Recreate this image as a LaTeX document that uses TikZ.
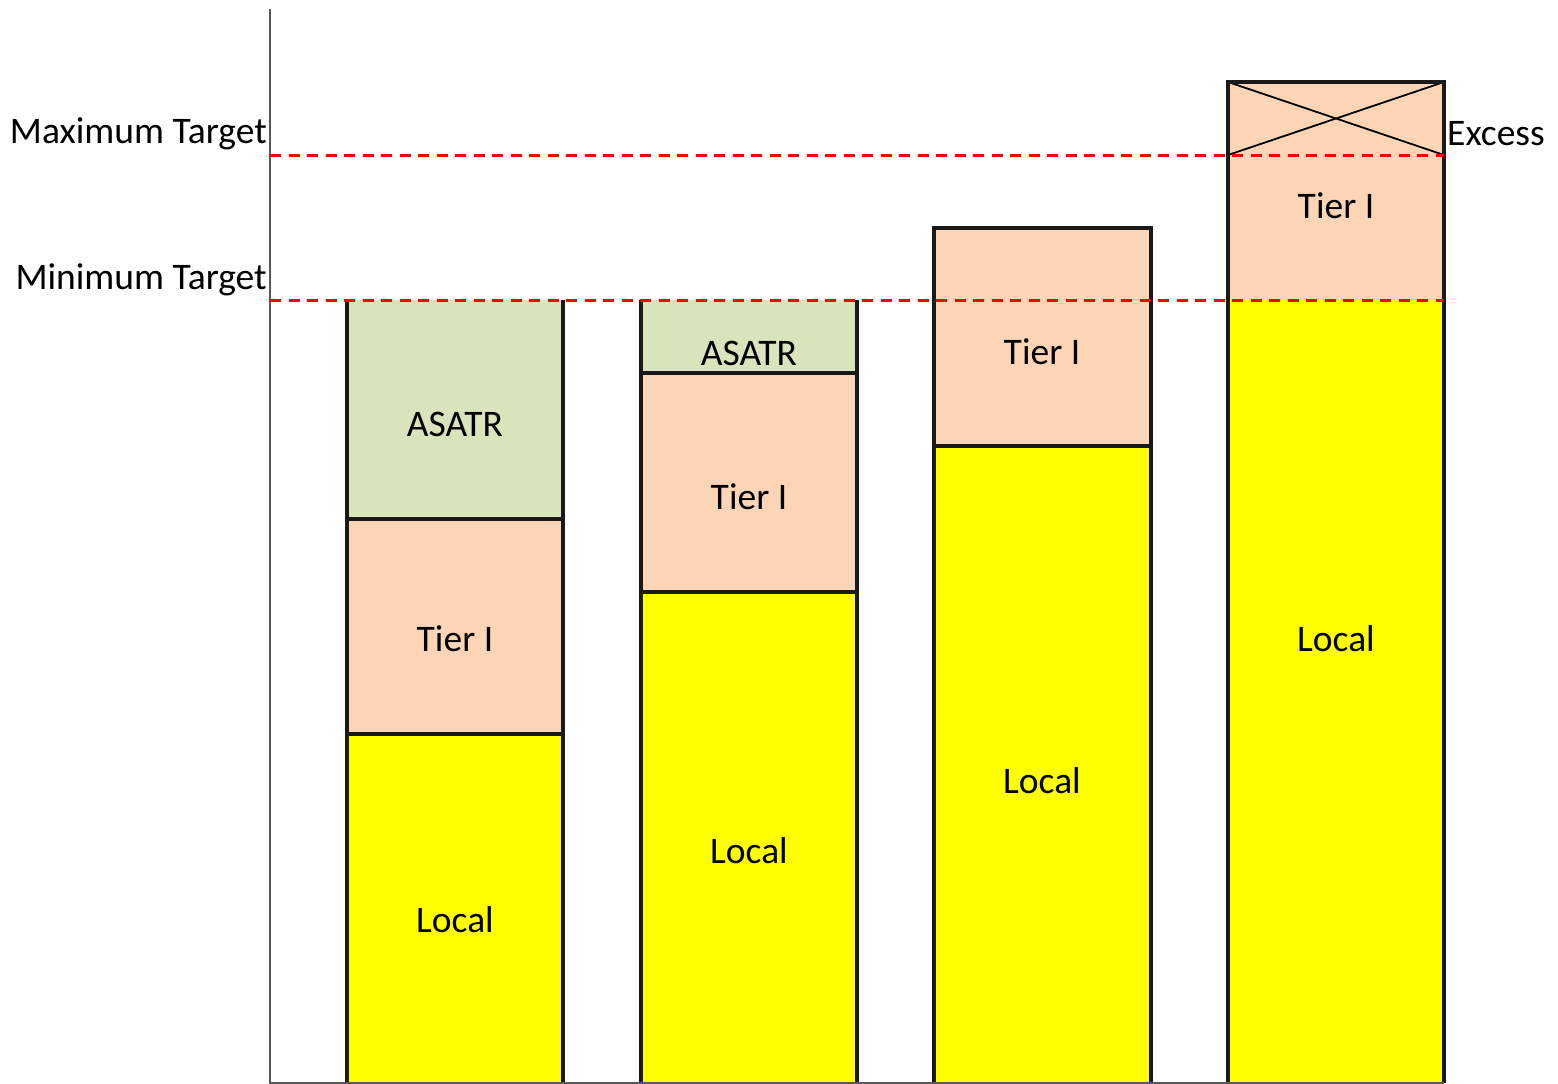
\documentclass[tikz,border=0pt]{standalone}
\usepackage{fontspec}
\setmainfont{Carlito}
\begin{document}
\begin{tikzpicture}[x=1pt,y=-1pt,
  lbl/.style={font=\fontsize{37.5}{44}\selectfont, inner sep=0pt},
  seg/.style={draw=none, inner sep=0pt, minimum width=216pt, anchor=north west},
  green/.style={fill={rgb,255:red,216;green,228;blue,188}},
  peach/.style={fill={rgb,255:red,251;green,213;blue,181}},
  yell/.style={fill={rgb,255:red,255;green,255;blue,0}},
  border/.style={line width=3.2pt, black!90},
  axis/.style={line width=2.4pt, black!65},
  target/.style={line width=3pt, red, dash pattern=on 11pt off 7.5pt}]
\useasboundingbox (0,0) rectangle (1558,1084);

% ---- bar 1 ----
\node[seg, green, minimum height=219pt] (b1a) at (347,300) {};
\node[seg, peach, minimum height=215pt] (b1t) at (347,519) {};
\node[seg, yell,  minimum height=349pt] (b1l) at (347,734) {};
\draw[border] (347,300) -- (347,1083) (563,300) -- (563,1083)
              (347,519) -- (563,519) (347,734) -- (563,734);
\node[lbl] (t1a) at (455,424) {ASATR};
\node[lbl] (t1t) at (455,639) {Tier I};
\node[lbl] (t1l) at (455,920) {Local};

% ---- bar 2 ----
\node[seg, green, minimum height=73pt]  (b2a) at (641,300) {};
\node[seg, peach, minimum height=219pt] (b2t) at (641,373) {};
\node[seg, yell,  minimum height=491pt] (b2l) at (641,592) {};
\draw[border] (641,300) -- (641,1083) (857,300) -- (857,1083)
              (641,373) -- (857,373) (641,592) -- (857,592);
\node[lbl] (t2a) at (749,353) {ASATR};
\node[lbl] (t2t) at (749,497) {Tier I};
\node[lbl] (t2l) at (749,851) {Local};

% ---- bar 3 ----
\node[seg, peach, minimum height=218pt] (b3t) at (934,228) {};
\node[seg, yell,  minimum height=637pt] (b3l) at (934,446) {};
\draw[border] (934,1083) -- (934,228) -- (1151,228) -- (1151,1083)
              (934,446) -- (1151,446);
\node[lbl] (t3t) at (1042,352) {Tier I};
\node[lbl] (t3l) at (1042,781) {Local};

% ---- bar 4 ----
\node[seg, peach, minimum height=218pt] (b4t) at (1228,82) {};
\node[seg, yell,  minimum height=783pt] (b4l) at (1228,300) {};
\draw[line width=1.8pt] (1228,82) -- (1444,155) (1228,155) -- (1444,82);
\draw[border] (1228,1083) -- (1228,82) -- (1444,82) -- (1444,1083);
\node[lbl] (t4t) at (1336,206) {Tier I};
\node[lbl] (t4l) at (1336,639) {Local};
\node[lbl, anchor=west] (ex) at (1447,134) {Excess};

% ---- axes ----
\coordinate (ytop) at (270,9);
\coordinate (orig) at (270,1083);
\coordinate (xend) at (1444,1083);
\draw[axis] (ytop) -- (orig) -- (xend);

% ---- target levels ----
\coordinate (maxL) at (270,155);
\coordinate (maxR) at (1444,155);
\coordinate (minL) at (270,300);
\coordinate (minR) at (1444,300);
\draw[target] (maxL) -- (maxR);
\draw[target] (minL) -- (minR);
\node[lbl, anchor=east] (maxT) at (267,134) {Maximum Target};
\node[lbl, anchor=east] (minT) at (267,280) {Minimum Target};
\end{tikzpicture}
\end{document}
